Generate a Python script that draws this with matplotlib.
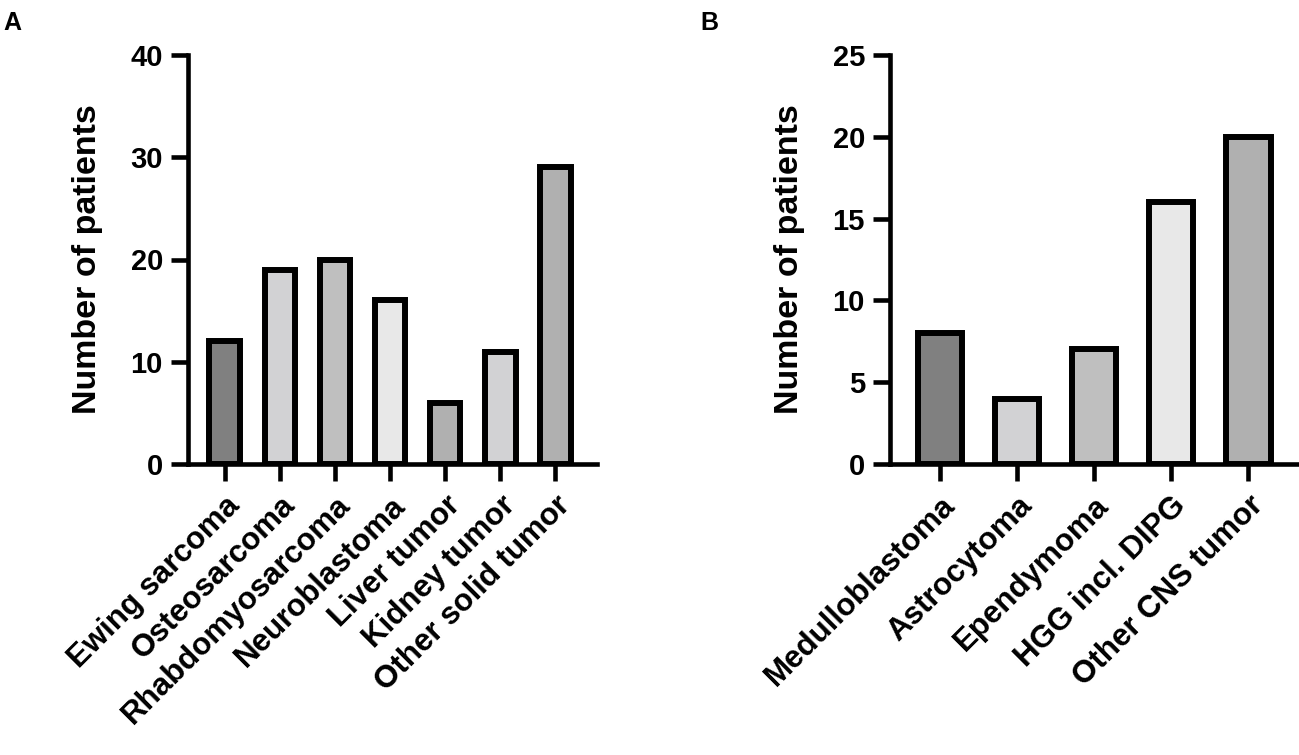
import matplotlib
matplotlib.use('Agg')
import matplotlib.pyplot as plt
import matplotlib.transforms as mtransforms

plt.rcParams['font.family'] = ['Liberation Sans', 'DejaVu Sans']
plt.rcParams['font.weight'] = 'bold'

# Panel A: solid tumors
solid_types = ['Ewing sarcoma', 'Osteosarcoma', 'Rhabdomyosarcoma', 'Neuroblastoma',
               'Liver tumor', 'Kidney tumor', 'Other solid tumor']
solid_counts = [12, 19, 20, 16, 6, 11, 29]
solid_colors = ['#808080', '#d2d2d4', '#bfbfbf', '#e8e8e8', '#b0b0b0', '#d2d2d4', '#b0b0b0']
solid_yticks = [0, 10, 20, 30, 40]

# Panel B: CNS tumors
cns_types = ['Medulloblastoma', 'Astrocytoma', 'Ependymoma', 'HGG incl. DIPG', 'Other CNS tumor']
cns_counts = [8, 4, 7, 16, 20]
cns_colors = ['#808080', '#d2d2d4', '#bfbfbf', '#e8e8e8', '#b0b0b0']
cns_yticks = [0, 5, 10, 15, 20, 25]

W, H = 1299, 755
fig = plt.figure(figsize=(W / 100, H / 100), dpi=100)


def panel(rect, names, counts, colors, yticks, xlim, width, letter, letter_x):
    ax = fig.add_axes(rect)
    x = list(range(len(names)))
    ax.bar(x, counts, width=width, color=colors, edgecolor='black', linewidth=4.3,
           zorder=3)
    ax.set_xlim(*xlim)
    ax.set_ylim(0, yticks[-1])
    ax.set_yticks(yticks)
    ax.set_xticks(x)
    ax.set_xticklabels(names, rotation=45, ha='right', va='top',
                       rotation_mode='anchor', fontsize=22.5, fontweight='bold')
    # nudge rotated labels a little left, like the original
    shift = mtransforms.ScaledTranslation(-6 / 100, -1 / 100, fig.dpi_scale_trans)
    for lab in ax.get_xticklabels():
        lab.set_transform(lab.get_transform() + shift)
    for lab in ax.get_yticklabels():
        lab.set_fontsize(21)
        lab.set_fontweight('bold')
    ax.set_ylabel('Number of patients', fontsize=24.5, fontweight='bold', labelpad=20)
    for s in ['top', 'right']:
        ax.spines[s].set_visible(False)
    for s in ['left', 'bottom']:
        ax.spines[s].set_linewidth(3.3)
    ax.tick_params(axis='both', width=3.3, length=12, direction='out', pad=6)
    ax.tick_params(axis='x', pad=7)
    fig.text(letter_x / W, 1 - 23 / H, letter, fontsize=18, fontweight='bold',
             ha='left', va='center')
    return ax


bottom = 1 - 464 / H
height = (464 - 55) / H
panel([188 / W, bottom, (597 - 188) / W, height], solid_types, solid_counts,
      solid_colors, solid_yticks, (-0.67, 6.76), 0.56, 'A', 3)
panel([890 / W, bottom, (1299 - 890) / W, height], cns_types, cns_counts,
      cns_colors, cns_yticks, (-0.65, 4.66), 0.58, 'B', 700)

fig.savefig('out.png', dpi=100)
